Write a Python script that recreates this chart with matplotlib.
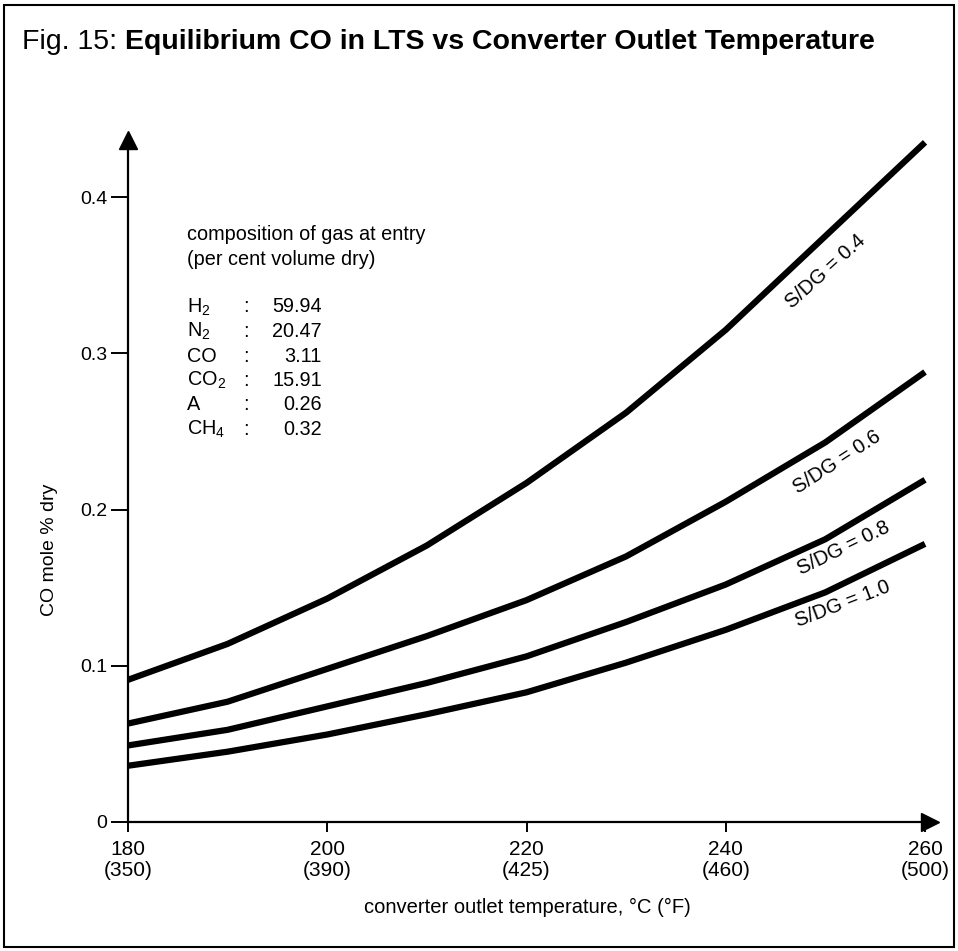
import matplotlib.pyplot as plt
from matplotlib.patches import Rectangle
from matplotlib.text import Annotation

plt.rcParams['mathtext.fontset'] = 'custom'
plt.rcParams['mathtext.rm'] = 'Liberation Sans'
plt.rcParams['font.family'] = ['Liberation Sans', 'DejaVu Sans']

# data
temp_c = [180, 190, 200, 210, 220, 230, 240, 250, 260]
co_sdg_04 = [0.091, 0.114, 0.143, 0.177, 0.217, 0.262, 0.315, 0.375, 0.435]
co_sdg_06 = [0.063, 0.077, 0.098, 0.119, 0.142, 0.170, 0.205, 0.243, 0.288]
co_sdg_08 = [0.049, 0.059, 0.074, 0.089, 0.106, 0.128, 0.152, 0.181, 0.219]
co_sdg_10 = [0.036, 0.045, 0.056, 0.069, 0.083, 0.102, 0.123, 0.147, 0.178]
curve_labels = ['S/DG = 0.4', 'S/DG = 0.6', 'S/DG = 0.8', 'S/DG = 1.0']

x_ticks = [180, 200, 220, 240, 260]
x_ticklabels = ['180\n(350)', '200\n(390)', '220\n(425)', '240\n(460)', '260\n(500)']
y_ticks = [0, 0.1, 0.2, 0.3, 0.4]
y_ticklabels = ['0', '0.1', '0.2', '0.3', '0.4']

gas = ['H$_\\mathregular{2}$', 'N$_\\mathregular{2}$', 'CO', 'CO$_\\mathregular{2}$', 'A', 'CH$_\\mathregular{4}$']
gas_pct = ['59.94', '20.47', '3.11', '15.91', '0.26', '0.32']

W, H = 958, 951
fig = plt.figure(figsize=(W / 100, H / 100), dpi=100)

# outer frame
fig.patches.append(Rectangle((4 / W, 4 / H), 950 / W, 942 / H, transform=fig.transFigure,
                             fill=False, lw=1.5, ec='black'))

# title: plain prefix + bold rest
t1 = fig.text(22 / W, 1 - 42 / H, 'Fig. 15: ', fontsize=20.5, va='center')
fig.add_artist(Annotation('Equilibrium CO in LTS vs Converter Outlet Temperature',
                          xy=(1, 0.5), xycoords=t1, va='center', ha='left',
                          fontsize=20.5, fontweight='bold'))

ax = fig.add_axes([128 / W, (H - 822) / H, (930 - 128) / W, (822 - 140) / H])
ax.set_xlim(180, 260.5)
ax.set_ylim(0, 0.4365)

for ys in [co_sdg_04, co_sdg_06, co_sdg_08, co_sdg_10]:
    ax.plot(temp_c, ys, color='black', lw=4.5, solid_capstyle='butt', solid_joinstyle='round')

for s in ['top', 'right']:
    ax.spines[s].set_visible(False)
for s in ['left', 'bottom']:
    ax.spines[s].set_linewidth(1.6)

# arrow heads on the axes
ax.plot(1, 0, '>', color='black', ms=13, transform=ax.transAxes, clip_on=False)
ax.plot(0, 1, '^', color='black', ms=13, transform=ax.transAxes, clip_on=False)

ax.set_xticks(x_ticks)
ax.set_xticklabels(x_ticklabels, linespacing=1.15)
ax.set_yticks(y_ticks)
ax.set_yticklabels(y_ticklabels)
ax.tick_params(axis='x', direction='out', length=7, width=1.4, pad=6, labelsize=15)
ax.tick_params(axis='y', direction='out', length=12, width=1.4, pad=3, labelsize=14)

fig.text(527 / W, 1 - 907 / H, 'converter outlet temperature, °C (°F)', fontsize=14.5,
         ha='center', va='center')
fig.text(50 / W, 1 - 550 / H, 'CO mole % dry', fontsize=14, rotation=90,
         ha='center', va='center')

# curve labels (pixel centre and angle)
label_pos = [(826, 271, 42), (837, 462, 33), (844, 548, 26), (843, 604, 21)]
for txt, (px, py, rot) in zip(curve_labels, label_pos):
    fig.text(px / W, 1 - py / H, txt, fontsize=14.5, rotation=rot,
             ha='center', va='center', rotation_mode='anchor')

# composition of the entry gas
fig.text(187 / W, 1 - 235 / H, 'composition of gas at entry', fontsize=14.3, va='center')
fig.text(187 / W, 1 - 259 / H, '(per cent volume dry)', fontsize=14.3, va='center')
for i, (g, v) in enumerate(zip(gas, gas_pct)):
    y = 1 - (307 + 24.5 * i) / H
    fig.text(187 / W, y, g, fontsize=14.3, va='center')
    fig.text(246 / W, y, ':', fontsize=14.3, va='center', ha='center')
    fig.text(322 / W, y, v, fontsize=14.3, va='center', ha='right')

fig.savefig('out.png', dpi=100)
